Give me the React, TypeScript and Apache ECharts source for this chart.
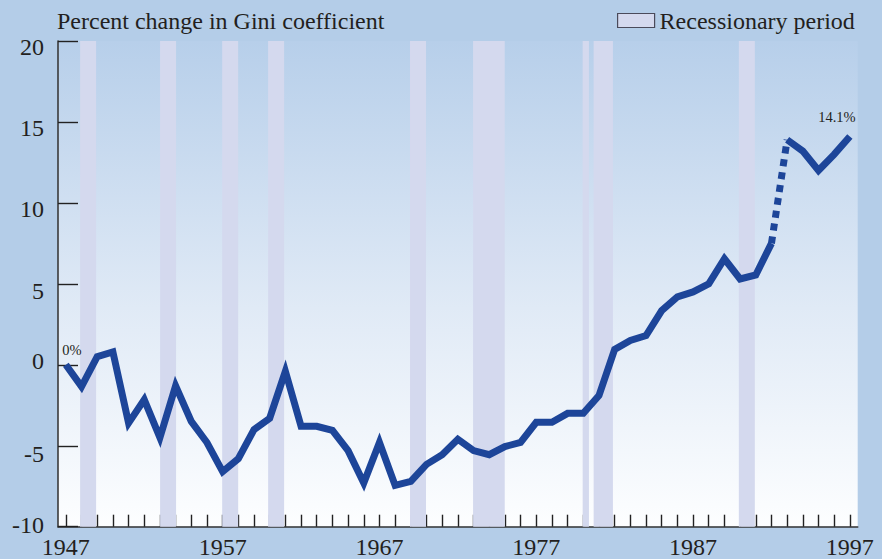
import React, { useEffect, useRef } from "react";
import * as echarts from "echarts";

const years = [
  1947, 1948, 1949, 1950, 1951, 1952, 1953, 1954, 1955, 1956,
  1957, 1958, 1959, 1960, 1961, 1962, 1963, 1964, 1965, 1966,
  1967, 1968, 1969, 1970, 1971, 1972, 1973, 1974, 1975, 1976,
  1977, 1978, 1979, 1980, 1981, 1982, 1983, 1984, 1985, 1986,
  1987, 1988, 1989, 1990, 1991, 1992, 1993, 1994, 1995, 1996, 1997,
];
const giniChange = [
  0, -1.35, 0.5, 0.8, -3.6, -2.15, -4.5, -1.3, -3.5, -4.8,
  -6.6, -5.8, -4.0, -3.3, -0.4, -3.8, -3.8, -4.05, -5.3, -7.3,
  -4.8, -7.45, -7.2, -6.15, -5.55, -4.6, -5.3, -5.55, -5.05, -4.8,
  -3.55, -3.55, -3.0, -3.0, -1.9, 0.95, 1.5, 1.8, 3.35, 4.2,
  4.5, 5.0, 6.55, 5.3, 5.55, 7.5, 13.9, 13.2, 12.0, 13.0, 14.1,
];
// series break (change in methodology) between these years
const breakFrom = 1992;
const breakTo = 1993;

const recessionStarts = [1947.91, 1953.01, 1956.97, 1959.9, 1968.95, 1972.97, 1979.96, 1980.66, 1989.92];
const recessionEnds = [1948.93, 1954.03, 1957.99, 1960.92, 1969.97, 1974.99, 1980.36, 1981.89, 1990.94];

const xLabelYears = [1947, 1957, 1967, 1977, 1987, 1997];
const yMin = -10;
const yMax = 20;
const yStep = 5;
// vertical nudges of the y tick labels as printed (px, + = down)
const yLabelNudge: Record<string, number> = {
  "20": 6, "15": 6, "10": 6, "5": 7, "0": -4, "-5": 8, "-10": -2,
};

const FONT = "'Liberation Serif', 'Times New Roman', serif";
const FS = 24;
const TEXT = "#231f20";
const LINE = "#1d4599";
const RECESS = "#d4d9ee";

function richName(v: string) {
  return "n" + v.replace("-", "m");
}

export default function App() {
  const ref = useRef<HTMLDivElement>(null);

  useEffect(() => {
    if (!ref.current) return;
    const chart = echarts.init(ref.current, undefined, { renderer: "svg" });

    const pairs = years.map((y, i) => [y, giniChange[i]]);
    const iFrom = years.indexOf(breakFrom);
    const iTo = years.indexOf(breakTo);
    const lastIdx = years.length - 1;

    const labelled = (p: number[], idx: number) => {
      if (idx === 0) {
        return {
          value: p,
          label: { show: true, position: "top", offset: [6, -2] },
        };
      }
      if (idx === lastIdx) {
        return {
          value: p,
          label: { show: true, position: "top", offset: [-13, -7] },
        };
      }
      return { value: p };
    };

    const rich: Record<string, any> = {};
    Object.keys(yLabelNudge).forEach((k) => {
      const n = yLabelNudge[k];
      rich[richName(k)] = {
        fontFamily: FONT,
        fontSize: FS,
        color: TEXT,
        padding: n >= 0 ? [2 * n, 0, 0, 0] : [0, 0, -2 * n, 0],
      };
    });

    const baseLine = {
      type: "line",
      silent: true,
      symbol: "circle",
      symbolSize: 0,
      showSymbol: true,
      lineStyle: { color: LINE, width: 7, join: "miter", cap: "butt" },
      itemStyle: { color: LINE },
      label: {
        show: false,
        fontFamily: FONT,
        fontSize: 14.5,
        color: TEXT,
        formatter: (p: any) => `${p.value[1]}%`,
      },
      z: 5,
    };

    const option: any = {
      animation: false,
      backgroundColor: "#b4cde8",
      title: {
        text: "Percent change in Gini coefficient",
        left: 57,
        top: 9,
        padding: 0,
        textStyle: { fontFamily: FONT, fontSize: FS, fontWeight: "normal", color: TEXT },
      },
      legend: {
        data: ["Recessionary period"],
        left: 617,
        top: 8.5,
        padding: 0,
        icon: "rect",
        itemWidth: 37,
        itemHeight: 14,
        selectedMode: false,
        itemStyle: { color: RECESS, borderColor: "#4a4a5a", borderWidth: 1.2 },
        textStyle: { fontFamily: FONT, fontSize: FS, color: TEXT },
      },
      grid: {
        left: 58,
        right: 24.3,
        top: 41,
        bottom: 32.3,
        show: true,
        borderWidth: 0,
        backgroundColor: new echarts.graphic.LinearGradient(0, 0, 0, 1, [
          { offset: 0, color: "#b7cfea" },
          { offset: 0.55, color: "#e0eaf6" },
          { offset: 1, color: "#fdfeff" },
        ]),
      },
      xAxis: {
        type: "value",
        min: years[0] - 0.5,
        max: years[years.length - 1] + 0.5,
        splitLine: { show: false },
        axisLine: { show: true, onZero: false, lineStyle: { color: "#333", width: 1.6 } },
        axisTick: {
          show: true,
          inside: true,
          length: 12,
          customValues: years,
          lineStyle: { color: "#222", width: 1.4 },
        },
        axisLabel: {
          show: true,
          customValues: xLabelYears,
          margin: 8,
          fontFamily: FONT,
          fontSize: FS,
          color: TEXT,
          formatter: (v: number) => String(v),
        },
      },
      yAxis: {
        type: "value",
        min: yMin,
        max: yMax,
        interval: yStep,
        splitLine: { show: false },
        axisLine: { show: true, lineStyle: { color: "#3a3a3a", width: 1.6 } },
        axisTick: {
          show: true,
          inside: true,
          length: 20,
          lineStyle: { color: "#222", width: 1.4 },
        },
        axisLabel: {
          margin: 14,
          fontFamily: FONT,
          fontSize: FS,
          color: TEXT,
          formatter: (v: number) => `{${richName(String(v))}|${v}}`,
          rich,
        },
      },
      series: [
        {
          ...baseLine,
          name: "Gini",
          data: pairs.slice(0, iFrom + 1).map((p, i) => labelled(p, i)),
          markArea: {
            silent: true,
            itemStyle: { color: RECESS, opacity: 1 },
            data: recessionStarts.map((s, i) => [{ xAxis: s }, { xAxis: recessionEnds[i] }]),
            z: 1,
          },
        },
        {
          ...baseLine,
          name: "Gini break",
          lineStyle: { color: LINE, width: 7, type: [7, 6], cap: "butt" },
          data: pairs.slice(iFrom, iTo + 1).map((p) => ({ value: p })),
        },
        {
          ...baseLine,
          name: "Gini after",
          data: pairs.slice(iTo).map((p, i) => labelled(p, i + iTo)),
        },
        {
          type: "bar",
          name: "Recessionary period",
          data: [],
          itemStyle: { color: RECESS, borderColor: "#4a4a5a", borderWidth: 1.2 },
        },
      ],
    };

    chart.setOption(option);
    return () => chart.dispose();
  }, []);

  return (
    <div
      ref={ref}
      style={{ position: "absolute", left: 0, top: 0, width: 882, height: 559 }}
    />
  );
}
